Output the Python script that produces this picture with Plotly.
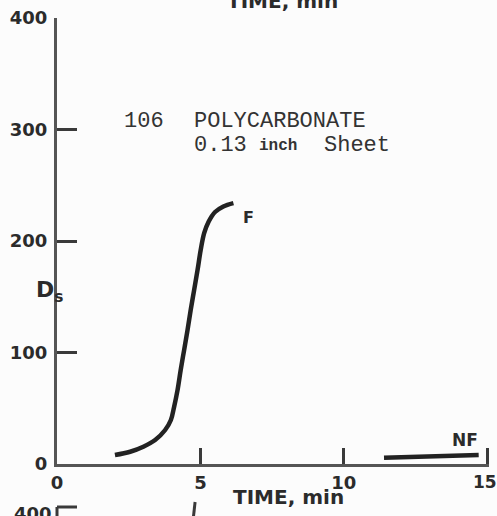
import plotly.graph_objects as go

# Smoke density curve, flaming exposure (F)
f_time = [2.02, 2.55, 3.01, 3.42, 3.77, 3.97, 4.08, 4.2, 4.31, 4.43, 4.55, 4.66,
          4.78, 4.9, 5.01, 5.13, 5.28, 5.51, 5.8, 6.15]
f_ds = [8, 11, 15.5, 21.5, 30.5, 39.5, 51, 66, 84, 102, 120, 138,
        156, 174, 192, 207, 217, 226, 231, 234]

# Smoke density curve, non-flaming exposure (NF)
nf_time = [11.4, 14.7]
nf_ds = [5.5, 8]

x_ticks = [0, 5, 10, 15]
y_ticks = [0, 100, 200, 300, 400]

X_MAX = 15.06  # a hair past the last tick so its mark is kept
W, H = 497, 516
ML, MT, MB = 57, 18, 52
MR = W - ML - 430 * X_MAX / 15
INK = "#2b2b2b"
BOLD = dict(family="DejaVu Sans", weight="bold", color=INK)
MONO = dict(family="Liberation Mono", color="#333333")


def fx(p):
    """pixel column -> paper x"""
    return (p - ML) / (W - ML - MR)


def fy(p):
    """pixel row -> paper y"""
    return (H - MB - p) / (H - MT - MB)


fig = go.Figure()
fig.add_trace(go.Scatter(x=f_time, y=f_ds, mode="lines",
                         line=dict(color="#222222", width=4.5, shape="spline", smoothing=1.0),
                         hoverinfo="skip"))
fig.add_trace(go.Scatter(x=nf_time, y=nf_ds, mode="lines",
                         line=dict(color="#222222", width=4.5),
                         hoverinfo="skip"))


def note(text, x, y, size, font=BOLD, xanchor="center", yanchor="middle"):
    fig.add_annotation(text=text, x=fx(x), y=fy(y), xref="paper", yref="paper",
                       showarrow=False, xanchor=xanchor, yanchor=yanchor,
                       font=dict(font, size=size))


note("106", 122, 121, 22, MONO, xanchor="left")
note("POLYCARBONATE", 192, 121, 22, MONO, xanchor="left")
note("0.13", 192, 145, 22, MONO, xanchor="left")
note("inch", 257, 146, 16, dict(MONO, weight="bold"), xanchor="left")
note("Sheet", 322, 145, 22, MONO, xanchor="left")
note("F", 248, 218, 16)
note("NF", 465, 440, 17)
note("D<sub>s</sub>", 50, 291, 22)
note("TIME, min", 288, 497, 20)
note("TIME, min", 282, 1, 20)
note("400", 33, 513, 18)
# last x tick label sits at the right edge of the page, so it is placed by hand
note(str(x_ticks[-1]), 485, 482, 17)

# fragments of the neighbouring panel below
for x0, y0, x1, y1 in [(57, 507, 77, 507), (57, 507, 57, 520), (195, 502, 193, 520)]:
    fig.add_shape(type="line", xref="paper", yref="paper",
                  x0=fx(x0), y0=fy(y0), x1=fx(x1), y1=fy(y1),
                  line=dict(color="#3a3a3a", width=3))

fig.update_xaxes(range=[0, X_MAX], tickvals=x_ticks,
                 ticktext=[str(v) for v in x_ticks[:-1]] + [""],
                 ticks="inside", ticklen=16, tickwidth=2.5, tickcolor="#3a3a3a",
                 showline=True, linecolor="#555555", linewidth=3,
                 showgrid=False, zeroline=False, ticklabelstandoff=0,
                 tickfont=dict(BOLD, size=18))
fig.update_yaxes(range=[0, 400.01], tickvals=y_ticks, ticktext=[str(v) for v in y_ticks],
                 ticks="inside", ticklen=20, tickwidth=2.5, tickcolor="#3a3a3a",
                 showline=True, linecolor="#555555", linewidth=3,
                 showgrid=False, zeroline=False, ticklabelstandoff=3,
                 tickfont=dict(BOLD, size=18))

fig.update_layout(width=W, height=H, autosize=False,
                  margin=dict(l=ML, r=MR, t=MT, b=MB),
                  paper_bgcolor="#fcfcfc", plot_bgcolor="#fcfcfc",
                  showlegend=False)

fig.write_html("out.html")
